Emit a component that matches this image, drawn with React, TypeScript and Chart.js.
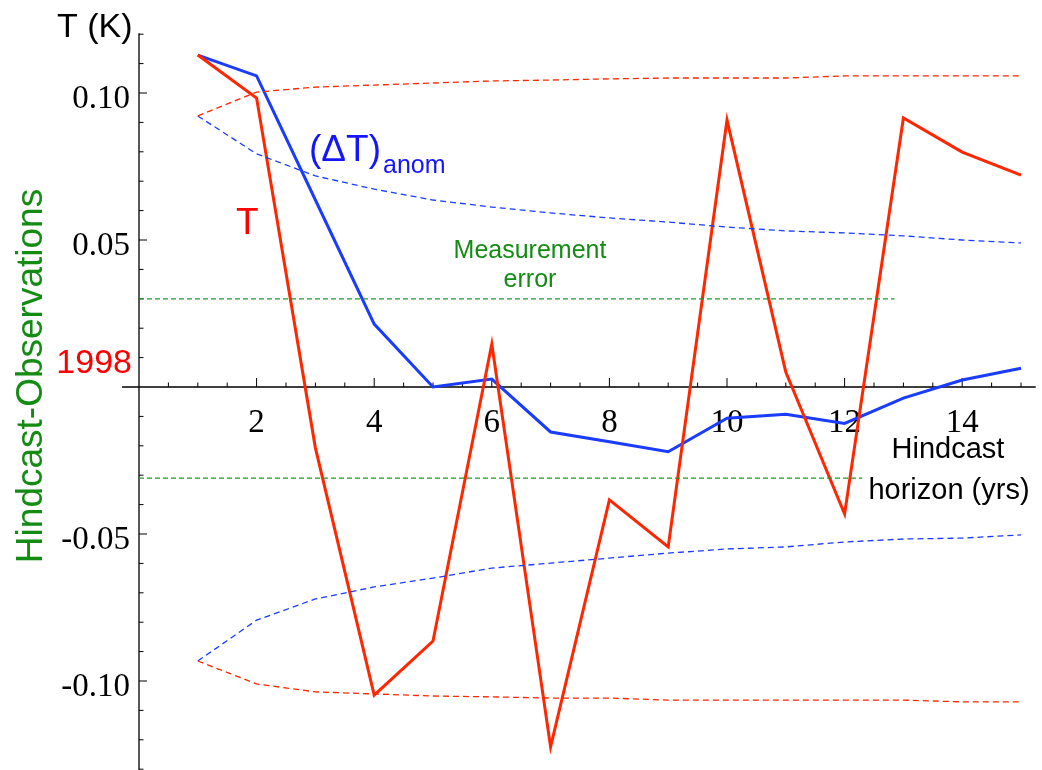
import React, { useEffect, useRef } from 'react';
import { Chart, registerables } from 'chart.js';

Chart.register(...registerables);

// ---- Data ----
const horizons = [1, 2, 3, 4, 5, 6, 7, 8, 9, 10, 11, 12, 13, 14, 15];

// Hindcast - observations of T (red, solid)
const tHindcast = [0.1129, 0.0983, -0.0207, -0.1048, -0.0864, 0.0146, -0.1224, -0.0384, -0.0544, 0.0908, 0.0051, -0.0432, 0.0915, 0.0799, 0.0721];
// Hindcast - observations of (ΔT)anom (blue, solid)
const anomHindcast = [0.1129, 0.1058, 0.0636, 0.0214, 0.0, 0.0027, -0.0153, -0.0186, -0.022, -0.0106, -0.0093, -0.0124, -0.0038, 0.0024, 0.0064];

// Uncertainty bands (dashed)
const tBandUpper = [0.0922, 0.1003, 0.102, 0.1027, 0.1034, 0.1041, 0.1044, 0.1048, 0.1051, 0.1051, 0.1051, 0.1058, 0.1058, 0.1058, 0.1058];
const tBandLower = [-0.0932, -0.101, -0.1037, -0.1044, -0.1051, -0.1054, -0.1058, -0.1058, -0.1065, -0.1065, -0.1065, -0.1065, -0.1065, -0.1071, -0.1071];
const anomBandUpper = [0.0922, 0.0793, 0.0718, 0.0673, 0.0636, 0.0612, 0.0592, 0.0575, 0.0561, 0.0544, 0.0531, 0.0524, 0.0514, 0.05, 0.049];
const anomBandLower = [-0.0932, -0.0793, -0.0721, -0.068, -0.065, -0.0616, -0.0599, -0.0582, -0.0565, -0.0551, -0.0544, -0.0527, -0.0517, -0.0514, -0.0503];

// Measurement error (green, dashed)
const measErrX = [0, 12.85];
const measErrUpper = [0.03, 0.03];
const measErrLowerX = [0, 12.3];
const measErrLower = [-0.031, -0.031];

// Axes
const xMin = 0;
const xMax = 15.25;
const yMin = -0.13;
const yMax = 0.12;
const xTickValues = [2, 4, 6, 8, 10, 12, 14];
const xTickLabels = ['2', '4', '6', '8', '10', '12', '14'];
const yTickValues = [0.1, 0.05, -0.05, -0.1];
const yTickLabels = ['0.10', '0.05', '-0.05', '-0.10'];

const RED = '#ff2600';
const BLUE = '#1a3cff';
const GREEN = '#1f9a24';
const GREEN_TEXT = '#148c14';

const pts = (xs: number[], ys: number[]) => xs.map((x, i) => ({ x, y: ys[i] }));

const SANS = '"Liberation Sans", Arial, sans-serif';
const SERIF = '"Liberation Serif", "Times New Roman", serif';

const axesPlugin = {
  id: 'mmaAxes',
  beforeDatasetsDraw(chart: any) {
    const { ctx } = chart;
    const xs = chart.scales.x;
    const ys = chart.scales.y;
    const x0 = xs.getPixelForValue(0);
    const y0 = ys.getPixelForValue(0);
    ctx.save();
    ctx.strokeStyle = '#000';
    ctx.lineWidth = 1.3;
    ctx.beginPath();
    ctx.moveTo(x0, ys.getPixelForValue(yMax) - 1);
    ctx.lineTo(x0, chart.height);
    ctx.moveTo(x0 - 17, y0);
    ctx.lineTo(xs.getPixelForValue(xMax), y0);
    ctx.stroke();

    ctx.lineWidth = 1;
    ctx.beginPath();
    for (let k = -13; k <= 12; k++) {
      if (k === 0) continue;
      const py = ys.getPixelForValue(k / 100);
      const len = k % 5 === 0 ? 8 : 4.5;
      ctx.moveTo(x0, py);
      ctx.lineTo(x0 + len, py);
    }
    for (let k = 1; k <= 30; k++) {
      const px = xs.getPixelForValue(k / 2);
      const len = k % 4 === 0 ? 9 : 4.5;
      ctx.moveTo(px, y0);
      ctx.lineTo(px, y0 - len);
    }
    ctx.stroke();

    // tick labels
    ctx.fillStyle = '#000';
    ctx.font = `33px ${SERIF}`;
    ctx.textAlign = 'right';
    ctx.textBaseline = 'alphabetic';
    yTickValues.forEach((v, i) => {
      ctx.fillText(yTickLabels[i], x0 - 9, ys.getPixelForValue(v) + 15);
    });
    ctx.textAlign = 'center';
    xTickValues.forEach((v, i) => {
      ctx.fillText(xTickLabels[i], xs.getPixelForValue(v), y0 + 45);
    });
    ctx.restore();
  },
  afterDatasetsDraw(chart: any) {
    const { ctx } = chart;
    ctx.save();
    ctx.textBaseline = 'alphabetic';

    // Axis title top-left
    ctx.fillStyle = '#000';
    ctx.font = `34px ${SANS}`;
    ctx.textAlign = 'left';
    ctx.fillText('T (K)', 57, 37);

    // (ΔT)anom
    ctx.fillStyle = '#1414ff';
    ctx.font = `37px ${SANS}`;
    ctx.fillText('(ΔT)', 309, 161);
    ctx.font = `25px ${SANS}`;
    ctx.fillText('anom', 383, 173);

    // T
    ctx.fillStyle = '#ff0000';
    ctx.font = `37px ${SANS}`;
    ctx.fillText('T', 236, 234);

    // 1998
    ctx.textAlign = 'right';
    ctx.font = `34px ${SANS}`;
    ctx.fillText('1998', 132, 373);

    // Measurement error
    ctx.fillStyle = GREEN_TEXT;
    ctx.textAlign = 'center';
    ctx.font = `25px ${SANS}`;
    ctx.fillText('Measurement', 530, 258);
    ctx.fillText('error', 530, 287);

    // Hindcast horizon (yrs)
    ctx.fillStyle = '#000';
    ctx.font = `29px ${SANS}`;
    ctx.fillText('Hindcast', 948, 458);
    ctx.fillText('horizon (yrs)', 949, 499);

    // Vertical title
    ctx.fillStyle = GREEN_TEXT;
    ctx.font = `37px ${SANS}`;
    ctx.translate(42, 376);
    ctx.rotate(-Math.PI / 2);
    ctx.textAlign = 'center';
    ctx.fillText('Hindcast-Observations', 0, 0);
    ctx.restore();
  },
};

export default function App() {
  const ref = useRef<HTMLCanvasElement | null>(null);

  useEffect(() => {
    if (!ref.current) return;
    const dashed = (label: string, data: any[], color: string, dash: number[], width = 1.3) => ({
      label,
      data,
      borderColor: color,
      backgroundColor: color,
      borderWidth: width,
      borderDash: dash,
      pointRadius: 0,
      tension: 0,
      fill: false,
    });
    const chart = new Chart(ref.current, {
      type: 'line',
      data: {
        datasets: [
          dashed('Measurement error upper', pts(measErrX, measErrUpper), GREEN, [5, 3]),
          dashed('Measurement error lower', pts(measErrLowerX, measErrLower), GREEN, [5, 3]),
          dashed('T band upper', pts(horizons, tBandUpper), RED, [6, 4]),
          dashed('T band lower', pts(horizons, tBandLower), RED, [6, 4]),
          dashed('anom band upper', pts(horizons, anomBandUpper), BLUE, [6, 4]),
          dashed('anom band lower', pts(horizons, anomBandLower), BLUE, [6, 4]),
          {
            label: 'T',
            data: pts(horizons, tHindcast),
            borderColor: RED,
            backgroundColor: RED,
            borderWidth: 3,
            pointRadius: 0,
            tension: 0,
            fill: false,
          },
          {
            label: '(ΔT)anom',
            data: pts(horizons, anomHindcast),
            borderColor: BLUE,
            backgroundColor: BLUE,
            borderWidth: 3,
            pointRadius: 0,
            tension: 0,
            fill: false,
          },
        ],
      },
      options: {
        animation: false,
        responsive: false,
        maintainAspectRatio: false,
        layout: { padding: { left: 139, right: 6.3, top: 34.2, bottom: 0.8 } },
        plugins: { legend: { display: false }, tooltip: { enabled: false } },
        events: [],
        scales: {
          x: { type: 'linear', min: xMin, max: xMax, display: false },
          y: { type: 'linear', min: yMin, max: yMax, display: false },
        },
      },
      plugins: [axesPlugin],
    });
    return () => chart.destroy();
  }, []);

  return (
    <div style={{ position: 'absolute', left: 0, top: 0, width: 1042, height: 770, background: '#fff' }}>
      <canvas ref={ref} width={1042} height={770} style={{ display: 'block', width: 1042, height: 770 }} />
    </div>
  );
}
